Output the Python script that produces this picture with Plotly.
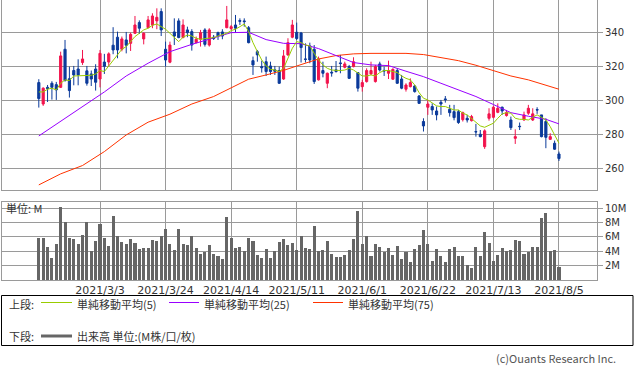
import plotly.graph_objects as go

# ---------------- data ----------------
tick_idx = [14, 29, 44, 59, 74, 89, 104, 119]
tick_labels = ["2021/3/3", "2021/3/24", "2021/4/14", "2021/5/11",
               "2021/6/1", "2021/6/22", "2021/7/13", "2021/8/5"]

opens = [310.4, 297.8, 307.6, 310.0, 309.2, 307.6, 330.0, 312.7, 317.5, 318.4,
         322.2, 317.3, 315.5, 318.4, 312.5, 322.5, 322.5, 332.4, 337.1, 330.0,
         335.5, 333.5, 339.4, 345.7, 336.1, 342.7, 344.3, 346.7, 352.2, 330.0,
         322.4, 340.2, 346.7, 336.9, 341.4, 340.4, 333.9, 335.9, 341.4, 332.5,
         337.1, 339.8, 340.2, 342.7, 342.2, 344.3, 346.9, 346.7, 342.7, 323.3,
         328.6, 319.8, 322.7, 320.2, 317.9, 317.5, 312.5, 326.7, 337.1, 340.0,
         339.6, 324.3, 332.0, 330.0, 312.0, 317.5, 310.0, 316.5, 317.9, 322.0,
         319.4, 319.8, 319.8, 316.3, 308.0, 311.0, 315.5, 311.0, 321.4, 317.6,
         315.9, 312.4, 317.5, 312.5, 306.5, 308.0, 308.4, 302.5, 287.5, 295.9,
         296.3, 293.7, 298.8, 300.8, 294.7, 293.3, 293.3, 288.6, 289.4, 288.0,
         281.6, 280.0, 272.7, 289.4, 290.0, 292.9, 295.9, 291.0, 288.4, 277.6,
         284.7, 288.4, 292.4, 288.4, 294.5, 291.4, 287.5, 277.0, 274.7, 268.4]
highs = [312.4, 307.6, 309.0, 311.2, 310.8, 328.6, 335.5, 319.8, 320.2, 324.1,
         329.6, 320.2, 317.5, 321.2, 329.6, 327.3, 328.2, 343.0, 340.4, 337.5,
         340.2, 339.8, 349.6, 347.0, 340.0, 349.6, 351.2, 354.1, 354.1, 334.5,
         334.5, 348.2, 348.2, 347.6, 343.3, 341.8, 337.5, 341.4, 342.4, 342.4,
         338.4, 340.4, 341.8, 355.5, 344.3, 350.2, 348.2, 348.2, 343.7, 325.7,
         329.6, 323.3, 325.7, 322.7, 320.2, 319.8, 329.6, 336.5, 347.3, 345.7,
         340.2, 333.5, 333.9, 332.5, 325.7, 322.7, 316.3, 320.2, 323.1, 326.7,
         322.7, 320.8, 325.3, 316.3, 312.0, 318.8, 322.7, 320.8, 322.7, 319.8,
         323.3, 318.8, 318.8, 314.9, 310.0, 312.9, 309.0, 303.1, 289.4, 300.2,
         298.2, 296.3, 300.2, 302.5, 297.3, 297.3, 294.3, 293.3, 291.4, 291.4,
         286.1, 282.5, 282.9, 295.3, 296.7, 298.2, 296.3, 294.3, 290.4, 282.9,
         286.9, 293.3, 297.3, 295.3, 295.9, 291.4, 289.4, 280.6, 276.3, 269.8]
lows = [295.7, 296.7, 299.0, 300.4, 300.2, 307.2, 311.0, 301.6, 308.8, 308.8,
        320.8, 308.6, 308.4, 305.7, 307.6, 315.5, 320.0, 327.1, 324.7, 328.8,
        327.6, 329.0, 339.2, 339.0, 332.9, 342.4, 342.4, 341.8, 337.8, 319.8,
        321.8, 332.5, 336.5, 336.5, 337.1, 329.2, 333.5, 331.6, 331.6, 331.6,
        335.5, 335.5, 335.9, 342.4, 341.4, 339.8, 344.3, 343.3, 333.5, 314.9,
        322.7, 316.3, 314.3, 314.9, 314.9, 309.6, 312.0, 326.1, 336.5, 335.5,
        322.2, 322.2, 321.8, 309.6, 311.6, 313.5, 307.1, 313.9, 316.3, 315.9,
        318.8, 312.5, 319.4, 305.1, 305.1, 310.4, 314.9, 310.4, 316.9, 314.3,
        312.5, 312.0, 309.6, 306.5, 305.1, 307.6, 304.5, 297.8, 281.6, 291.4,
        291.4, 288.2, 291.4, 298.6, 290.4, 288.2, 286.1, 287.5, 286.9, 287.5,
        278.6, 278.2, 271.4, 288.0, 289.4, 292.4, 291.4, 290.4, 282.5, 274.3,
        282.5, 288.0, 291.4, 287.8, 292.0, 278.2, 271.8, 276.7, 270.8, 264.3]
closes = [301.0, 307.1, 306.9, 307.6, 306.1, 326.1, 311.6, 305.7, 314.9, 314.9,
          324.3, 310.0, 312.5, 310.6, 327.6, 320.0, 327.3, 329.6, 329.6, 336.1,
          332.4, 338.8, 344.3, 342.4, 339.4, 347.3, 349.6, 348.8, 341.4, 323.7,
          332.5, 337.8, 336.9, 344.3, 339.8, 332.5, 335.9, 339.8, 332.9, 341.4,
          336.3, 337.8, 337.8, 347.3, 343.3, 342.4, 346.5, 346.3, 333.9, 320.8,
          326.7, 319.2, 316.9, 316.9, 317.1, 310.0, 326.1, 333.9, 344.3, 336.3,
          331.0, 324.1, 323.7, 311.0, 324.1, 315.9, 315.9, 316.1, 316.9, 321.6,
          321.4, 312.9, 322.7, 307.1, 310.4, 317.5, 317.5, 319.8, 317.8, 317.3,
          317.5, 318.2, 310.0, 307.1, 309.0, 310.4, 305.1, 298.2, 284.9, 297.8,
          294.3, 291.4, 297.8, 300.4, 292.7, 289.8, 286.9, 292.7, 288.4, 290.4,
          281.4, 278.6, 282.0, 292.0, 295.9, 295.3, 293.7, 292.9, 283.9, 278.6,
          284.5, 291.4, 295.3, 292.0, 294.3, 278.6, 278.2, 278.6, 271.2, 265.7]
volumes_m = [5.95, 5.86, 4.60, 3.07, 5.07, 10.19, 8.09, 5.95, 5.72, 5.07,
             6.28, 8.09, 4.05, 5.44, 7.90, 5.95, 4.74, 8.93, 6.14, 5.30,
             5.07, 5.72, 5.20, 4.37, 4.47, 4.47, 5.58, 5.44, 6.14, 7.12,
             5.02, 4.19, 7.12, 5.02, 4.88, 6.14, 4.47, 3.63, 3.91, 4.88,
             3.63, 3.35, 2.93, 8.79, 5.86, 4.47, 4.60, 4.05, 5.86, 5.44,
             3.49, 3.07, 4.33, 3.07, 4.05, 5.30, 5.72, 4.88, 5.16, 4.19,
             6.14, 4.47, 4.33, 7.53, 4.05, 4.19, 5.44, 3.63, 3.21, 3.21,
             3.49, 4.19, 5.72, 9.63, 5.02, 6.14, 3.35, 5.02, 4.60, 3.91,
             4.47, 3.49, 4.74, 2.93, 3.91, 2.51, 4.33, 4.88, 6.98, 5.02,
             2.65, 4.33, 3.35, 2.51, 4.33, 4.60, 3.35, 3.35, 2.09, 1.67,
             4.60, 3.35, 6.70, 5.16, 2.65, 3.49, 4.47, 4.05, 4.19, 5.58,
             5.44, 3.63, 3.91, 4.60, 4.60, 8.65, 9.35, 4.05, 4.19, 1.90]
ma5 = [304.9, 304.9, 306.5, 307.1, 306.1, 310.0, 312.0, 311.6, 314.3, 314.3,
       314.7, 314.3, 314.7, 315.5, 317.5, 316.9, 320.2, 323.7, 327.3, 330.0,
       331.6, 334.5, 337.5, 339.4, 341.4, 342.4, 344.1, 344.9, 343.3, 341.8,
       339.4, 337.1, 334.5, 337.1, 338.4, 337.8, 336.5, 335.9, 336.1, 336.5,
       336.9, 337.8, 338.4, 339.4, 341.0, 341.8, 343.3, 344.9, 340.4, 333.9,
       328.6, 323.7, 320.2, 318.2, 317.8, 316.9, 318.8, 324.7, 330.6, 334.5,
       333.9, 332.5, 332.0, 327.6, 323.7, 320.8, 318.8, 317.8, 317.5, 317.5,
       317.8, 318.8, 317.8, 316.3, 314.3, 314.3, 314.9, 314.3, 316.3, 317.5,
       317.5, 316.9, 316.3, 314.3, 312.9, 312.0, 309.0, 304.5, 301.2, 300.2,
       298.2, 296.7, 296.3, 296.3, 295.3, 294.3, 294.3, 292.4, 291.4, 289.4,
       286.9, 284.9, 284.1, 285.5, 286.5, 289.4, 292.0, 292.7, 292.4, 289.4,
       288.8, 288.8, 288.4, 290.0, 291.4, 290.0, 288.4, 284.5, 279.6, 274.7]
ma25_idx = [0, 5, 10, 15, 20, 25, 30, 35, 40, 44, 48, 52, 56, 60, 64, 68, 72,
            76, 80, 84, 88, 92, 96, 100, 104, 108, 112, 116, 119]
ma25 = [279.0, 287.5, 296.3, 304.9, 314.3, 321.8, 328.6, 332.9, 336.7, 339.8,
        340.0, 335.7, 333.5, 333.3, 330.4, 326.5, 322.2, 320.8, 320.4, 317.1,
        313.9, 310.0, 306.1, 302.2, 297.5, 292.7, 290.6, 288.8, 286.1]
ma75_idx = [0, 5, 10, 15, 20, 25, 30, 35, 40, 44, 48, 52, 56, 60, 64, 68, 72,
            76, 80, 84, 88, 92, 96, 100, 104, 108, 112, 116, 119]
ma75 = [250.2, 256.7, 261.6, 269.8, 279.6, 287.1, 291.8, 297.8, 302.2, 307.5,
        312.4, 314.9, 317.6, 321.0, 324.3, 326.3, 327.3, 327.6, 327.8, 327.6,
        326.9, 325.3, 323.3, 320.6, 317.5, 314.3, 312.0, 309.0, 306.5]
price_ticks = [260, 280, 300, 320, 340]
vol_ticks = [2, 4, 6, 8, 10]
vol_tick_labels = ["2M", "4M", "6M", "8M", "10M"]

# ---------------- styles / layout ----------------
W, H = 634, 370
ML, MR, MT, MB = 2, 37, 0, 90
PW, PH = W - ML - MR, H - MT - MB


def px_x(x):
    return (x - ML) / PW


def px_y(y):
    return (H - MB - y) / PH


UP = "#f2134c"
DOWN = "#0b3a9a"
GRID = "#9a9a9a"
TXT = "#333333"
JP = "Noto Sans CJK JP, sans-serif"
LAT = "DejaVu Sans, sans-serif"

idx = list(range(len(closes)))

fig = go.Figure()
fig.add_trace(go.Candlestick(
    x=idx, open=opens, high=highs, low=lows, close=closes,
    increasing=dict(line=dict(color=UP, width=1), fillcolor=UP),
    decreasing=dict(line=dict(color=DOWN, width=1), fillcolor=DOWN),
    whiskerwidth=0, xaxis="x", yaxis="y", showlegend=False, hoverinfo="skip"))
fig.add_trace(go.Scatter(x=ma75_idx, y=ma75, mode="lines",
                         line=dict(color="#ff3300", width=1),
                         xaxis="x", yaxis="y", showlegend=False))
fig.add_trace(go.Scatter(x=ma25_idx, y=ma25, mode="lines",
                         line=dict(color="#9900ff", width=1),
                         xaxis="x", yaxis="y", showlegend=False))
fig.add_trace(go.Scatter(x=idx, y=ma5, mode="lines",
                         line=dict(color="#99cc00", width=1),
                         xaxis="x", yaxis="y", showlegend=False))
fig.add_trace(go.Bar(x=idx, y=volumes_m, marker=dict(color="#666666", line=dict(width=0)),
                     width=0.7, xaxis="x2", yaxis="y2", showlegend=False))

xr = [-8.42, 127.7]
main_bottom = px_y(190)
vol_top = px_y(201.5)

fig.update_layout(
    width=W, height=H,
    margin=dict(l=ML, r=MR, t=MT, b=MB),
    paper_bgcolor="white", plot_bgcolor="white",
    showlegend=False,
    bargap=0,
    xaxis=dict(domain=[0, 1], range=xr, anchor="y", tickvals=tick_idx,
               showticklabels=False, ticks="", showgrid=True, gridcolor=GRID,
               gridwidth=1, zeroline=False, showline=True, linecolor=GRID,
               linewidth=1, mirror=False, rangeslider=dict(visible=False),
               fixedrange=True),
    yaxis=dict(domain=[main_bottom, 1], range=[247.2, 359.0], anchor="x",
               side="right", tickvals=price_ticks, ticks="outside", ticklen=5,
               tickcolor=GRID, showgrid=True, gridcolor=GRID, gridwidth=1,
               zeroline=False, showline=True, linecolor=GRID, linewidth=1,
               mirror=True, tickfont=dict(family=LAT, size=10, color=TXT)),
    xaxis2=dict(domain=[0, 1], range=xr, anchor="y2", tickvals=tick_idx,
                ticktext=tick_labels, ticks="", showgrid=True, gridcolor=GRID,
                gridwidth=1, zeroline=False, showline=True, linecolor=GRID,
                linewidth=1, mirror=True,
                tickfont=dict(family=LAT, size=11, color=TXT)),
    yaxis2=dict(domain=[0, vol_top], range=[0, 10.92], anchor="x2",
                side="right", tickvals=vol_ticks, ticktext=vol_tick_labels,
                ticks="outside", ticklen=5, tickcolor=GRID, showgrid=True,
                gridcolor=GRID, gridwidth=1, zeroline=False, showline=True,
                linecolor=GRID, linewidth=1, mirror=True,
                tickfont=dict(family=LAT, size=10, color=TXT)),
)

# legend box and entries
shapes = [
    dict(type="rect", xref="paper", yref="paper", x0=px_x(1.5), x1=px_x(633),
         y0=px_y(295.5), y1=px_y(345.5), line=dict(color="#000000", width=1)),
    dict(type="line", xref="paper", yref="paper", x0=px_x(41), x1=px_x(72),
         y0=px_y(302.5), y1=px_y(302.5), line=dict(color="#99cc00", width=1)),
    dict(type="line", xref="paper", yref="paper", x0=px_x(169), x1=px_x(199),
         y0=px_y(302.5), y1=px_y(302.5), line=dict(color="#9900ff", width=1)),
    dict(type="line", xref="paper", yref="paper", x0=px_x(313), x1=px_x(343),
         y0=px_y(302.5), y1=px_y(302.5), line=dict(color="#ff3300", width=1)),
    dict(type="line", xref="paper", yref="paper", x0=px_x(41), x1=px_x(72),
         y0=px_y(336), y1=px_y(336), line=dict(color="#666666", width=3)),
]
fig.update_layout(shapes=shapes)


def ann(text, x, y, xanchor="left", color=TXT, size=11, family=JP):
    fig.add_annotation(text=text, xref="paper", yref="paper", x=px_x(x), y=px_y(y),
                       xanchor=xanchor, yanchor="middle", showarrow=False,
                       borderpad=0, font=dict(family=family, size=size, color=color))


ann("単位: M", 5, 207.5)
ann("上段:", 8, 304)
ann("単純移動平均(5)", 76, 304)
ann("単純移動平均(25)", 203, 304)
ann("単純移動平均(75)", 347, 304)
ann("下段:", 8, 336)
ann("出来高 単位:(M株/口/枚)", 76, 336)
ann("(c)Ouants Research Inc.", 617, 358, xanchor="right", color="#555555")

fig.write_html("out.html", config={"displayModeBar": False},
               post_script="document.body.style.margin='0';document.body.style.padding='0';")
